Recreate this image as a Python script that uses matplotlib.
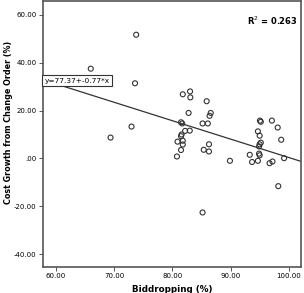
import numpy as np
import matplotlib
matplotlib.use("Agg")
import matplotlib.pyplot as plt

# biddropping (%) vs cost growth from change order (%)
bid = [73.8, 66.0, 73.6, 73.0, 69.4,
       81.8, 83.05, 83.1, 85.9, 82.8, 86.6, 86.4, 81.5, 81.7, 85.2, 86.1,
       83.0, 82.2, 81.6, 81.5, 81.8, 80.9, 81.8, 86.3, 85.4, 86.3, 81.5, 80.8,
       85.2, 89.9,
       95.05, 95.2, 97.1, 98.1, 94.7, 95.0, 98.7, 95.2, 95.0, 94.9, 94.9, 95.0,
       93.3, 99.2, 93.7, 94.7, 96.7, 97.2, 98.2]
growth = [51.7, 37.5, 31.4, 13.3, 8.7,
          26.8, 28.0, 25.5, 23.9, 19.0, 19.0, 17.8, 15.1, 14.6, 14.6, 14.6,
          11.6, 11.5, 10.0, 9.3, 7.4, 7.0, 5.8, 5.9, 3.6, 2.9, 3.5, 0.8,
          -22.6, -1.0,
          15.8, 15.3, 15.8, 12.9, 11.3, 9.5, 7.8, 6.6, 5.9, 5.0, 2.0, 1.3,
          1.5, 0.1, -1.5, -1.0, -2.0, -1.3, -11.6]

intercept, slope = 77.37, -0.77
r2 = 0.263

xticks = [60, 70, 80, 90, 100]
xticklabels = ["60.00", "70.00", "80.00", "90.00", "100.00"]
yticks = [-40, -20, 0, 20, 40, 60]
yticklabels = ["-40.00", "-20.00", ".00", "20.00", "40.00", "60.00"]

fig = plt.figure(figsize=(3.04, 2.93), dpi=100)
ax = fig.add_axes([43/304, 26/293, 258/304, 266/293])

xmin, xmax = 57.8, 102.1
ax.set_xlim(xmin, xmax)
ax.set_ylim(-45.4, 65.8)

xs = np.array([xmin, xmax])
ax.plot(xs, intercept + slope*xs, color="#333333", lw=0.9, zorder=2)
ax.scatter(bid, growth, s=13, facecolors="none", edgecolors="#333333",
           linewidths=0.8, zorder=3)

ax.set_xticks(xticks)
ax.set_xticklabels(xticklabels)
ax.set_yticks(yticks)
ax.set_yticklabels(yticklabels)
ax.tick_params(labelsize=5, length=3, width=0.7, color="#555555", pad=1.5)

for s in ax.spines.values():
    s.set_color("#555555")
    s.set_linewidth(1.2)

ax.text(0.005, 0.701, "y=77.37+-0.77*x", transform=ax.transAxes, fontsize=5.3,
        ha="left", va="center", zorder=5,
        bbox=dict(boxstyle="square,pad=0.35", fc="white", ec="#333333", lw=0.8))
ax.text(0.987, 0.925, "R$^2$ = %.3f" % r2, transform=ax.transAxes, fontsize=6,
        fontweight="bold", ha="right", va="center")

ax.set_xlabel("Biddropping (%)", fontsize=6.3, fontweight="bold")
ax.set_ylabel("Cost Growth from Change Order (%)", fontsize=5.8,
              fontweight="bold")
ax.xaxis.set_label_coords(0.5, -0.068)
ax.yaxis.set_label_coords(-0.116, 0.545)

fig.savefig("out.png", dpi=100, facecolor="white")
